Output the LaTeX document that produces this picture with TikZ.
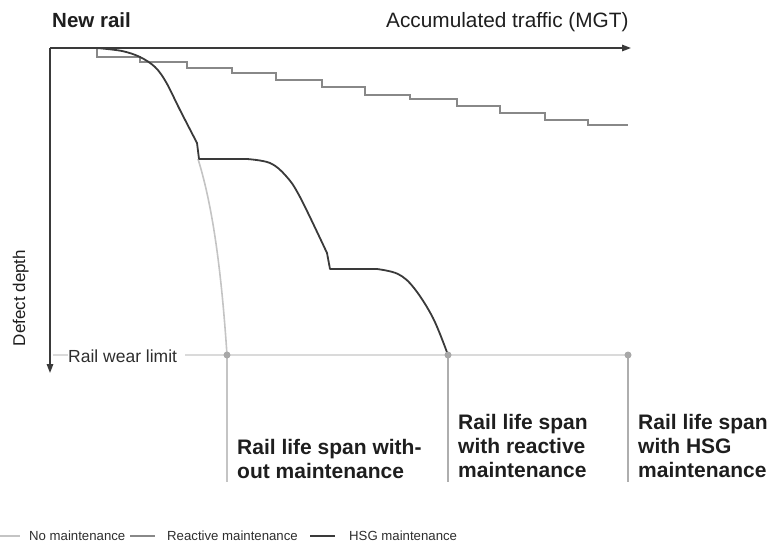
\documentclass[tikz,border=0pt]{standalone}
\usepackage{fontspec}
\setmainfont{Liberation Sans}
\usetikzlibrary{arrows.meta}
\definecolor{axisc}{HTML}{3A3A3A}
\definecolor{darkc}{HTML}{3A3A3A}
\definecolor{midc}{HTML}{888888}
\definecolor{lightc}{HTML}{C4C4C4}
\definecolor{limitc}{HTML}{DADADA}
\definecolor{spanc}{HTML}{AEAEAE}
\definecolor{dotc}{HTML}{A8A8A8}
\definecolor{txtc}{HTML}{1E1E1E}
\definecolor{smallc}{HTML}{2E2E2E}
\begin{document}
\begin{tikzpicture}[x=1pt,y=-1pt,
  axisline/.style={draw=axisc, line width=1.5pt, -{Triangle[length=9pt,width=6.5pt]}},
  hsgline/.style={draw=darkc, line width=1.8pt, line join=round},
  reactline/.style={draw=midc, line width=2pt},
  noline/.style={draw=lightc, line width=1.6pt},
  limitline/.style={draw=limitc, line width=1.5pt},
  spanline/.style={draw=spanc, line width=1.5pt},
  lifedot/.style={fill=dotc},
  bigtext/.style={font=\fontsize{21}{24}\selectfont\bfseries, text=txtc, align=left, inner sep=0pt},
  legtext/.style={font=\fontsize{13.2}{15}\selectfont, text=smallc, inner sep=0pt, anchor=base west},
  legline/.style={line width=1.6pt}
]
\useasboundingbox (0,0) rectangle (769,544);

% axes
\draw[axisline] (50,48) -- (631,48);
\draw[axisline] (50,48) -- (50,373);

% titles
\node[font=\fontsize{20.5}{24}\selectfont\bfseries, text=txtc, inner sep=0pt, anchor=base west] (newrail) at (52,27) {New rail};
\node[font=\fontsize{20.8}{24}\selectfont, text=txtc, inner sep=0pt, anchor=base west] (traffic) at (386,27) {Accumulated traffic (MGT)};
\node[font=\fontsize{17}{20}\selectfont, text=txtc, inner sep=0pt, rotate=90, anchor=base] (depth) at (25,298) {Defect depth};

% wear limit
\node[font=\fontsize{17.5}{20}\selectfont, text=smallc, inner sep=0pt, anchor=base west] (limit) at (68,362) {Rail wear limit};
\draw[limitline] (53,355) -- (limit.west |- 0,355);
\draw[limitline] (limit.east |- 0,355) ++(8,0) -- (628,355);

% span lines
\draw[draw=lightc, line width=1.5pt] (227,355) -- (227,482);
\draw[spanline] (448,355) -- (448,482);
\draw[spanline] (628,355) -- (628,482);

% staircase
\draw[reactline] (97,49) -- (97,57) -- (140,57) -- (140,62) -- (187,62) -- (187,68) -- (232,68) -- (232,73)
  -- (276,73) -- (276,80) -- (322,80) -- (322,87) -- (365,87) -- (365,95) -- (410,95) -- (410,99)
  -- (457,99) -- (457,106) -- (500,106) -- (500,113) -- (545,113) -- (545,120) -- (588,120) -- (588,125) -- (628,125);

% no maintenance curve
\draw[noline] (198,159) .. controls (214,210) and (222,280) .. (227,355);

% dark curve
\draw[hsgline] plot[smooth, tension=0.55] coordinates {(97,48) (122,51) (140,57) (155,67) (166,82) (180,110) (197,143)}
  -- (199,159) -- (247,159)
  -- plot[smooth, tension=0.6] coordinates {(247,159) (270,163) (286,176) (300,197) (327,253)}
  -- (330,269) -- (377,269)
  -- plot[smooth, tension=0.6] coordinates {(377,269) (398,274) (414,288) (433,318) (448,355)};

% dots
\fill[lifedot] (227,355) circle (3.5pt);
\fill[lifedot] (448,355) circle (3.5pt);
\fill[lifedot] (628,355) circle (3.5pt);

% life span texts
\node[bigtext, anchor=north west] (span1) at (237,439) {Rail life span with-\\out maintenance};
\node[bigtext, anchor=north west] (span2) at (458,414) {Rail life span\\with reactive\\maintenance};
\node[bigtext, anchor=north west] (span3) at (638,414) {Rail life span\\with HSG\\maintenance};

% legend
\draw[legline, draw=lightc] (0,536) -- (20,536);
\node[legtext] (leg1) at (29,540) {No maintenance};
\draw[legline, draw=midc] (130,536) -- (155,536);
\node[legtext] (leg2) at (167,540) {Reactive maintenance};
\draw[legline, draw=darkc, line width=2pt] (310,536) -- (335,536);
\node[legtext] (leg3) at (349,540) {HSG maintenance};
\end{tikzpicture}
\end{document}
